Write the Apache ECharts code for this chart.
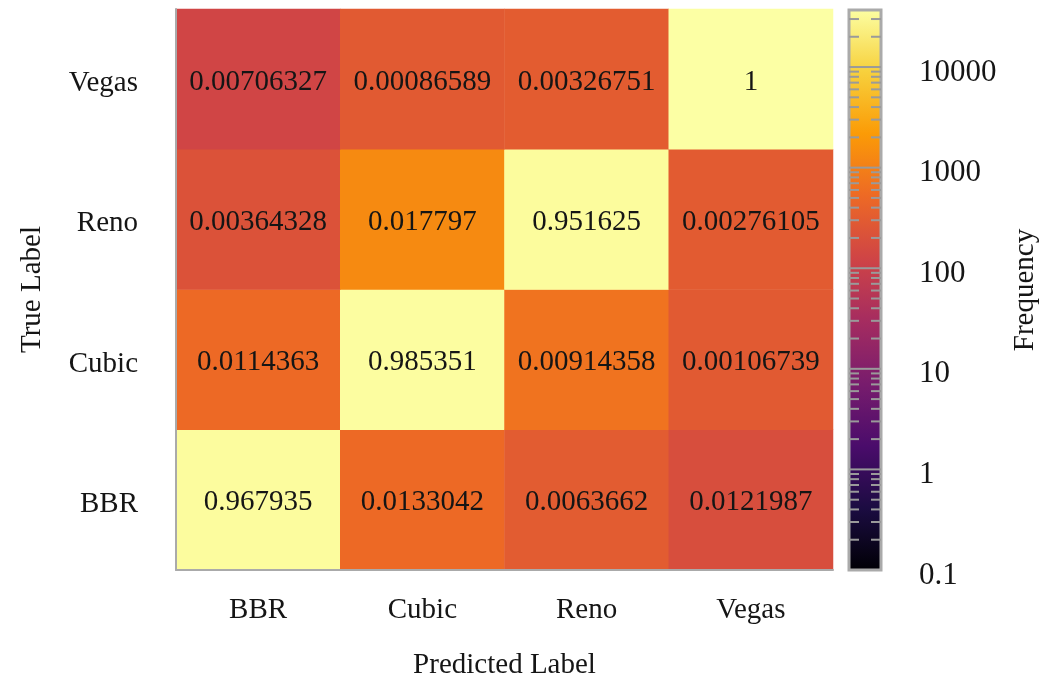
<!DOCTYPE html>
<html>
<head>
<meta charset="utf-8">
<script src="https://cdn.jsdelivr.net/npm/echarts@6/dist/echarts.min.js"></script>
<style>
  html, body { margin: 0; padding: 0; background: #ffffff; }
  #chart { width: 1041px; height: 675px; }
</style>
</head>
<body>
<div id="chart"></div>
<script>
// Categories (predicted along x, true along y, bottom to top)
const predictedLabels = ['BBR', 'Cubic', 'Reno', 'Vegas'];
const trueLabels = ['BBR', 'Cubic', 'Reno', 'Vegas'];

// Normalised rates printed in each cell, one array per true label (columns = predicted)
const rateBBR   = [0.967935, 0.0133042, 0.0063662, 0.0121987];
const rateCubic = [0.0114363, 0.985351, 0.00914358, 0.00106739];
const rateReno  = [0.00364328, 0.017797, 0.951625, 0.00276105];
const rateVegas = [0.00706327, 0.00086589, 0.00326751, 1];

// Raw frequencies that set each cell's colour (log scale)
const countBBR   = [34000, 520, 310, 185];
const countCubic = [515, 35000, 690, 290];
const countReno  = [215, 1300, 33500, 300];
const countVegas = [130, 290, 315, 36900];

// Colour bar range and labelled ticks
const colorbarTicks = [0.1, 1, 10, 100, 1000, 10000];
const colorbarMin = 0.1;
const colorbarMax = 36900;

const inferno = ['#000004', '#1b0c41', '#4a0c6b', '#781c6d', '#a52c60',
                 '#cf4446', '#ed6925', '#fb9b06', '#f7d13d', '#fcffa4'];

const FONT = '"Liberation Serif", "Times New Roman", serif';
const TEXT = '#151515';

const rates = [rateBBR, rateCubic, rateReno, rateVegas];
const counts = [countBBR, countCubic, countReno, countVegas];

const cells = [];
for (let yi = 0; yi < trueLabels.length; yi++) {
  for (let xi = 0; xi < predictedLabels.length; xi++) {
    const c = counts[yi][xi];
    cells.push([xi, yi, c, Math.log10(c), rates[yi][xi]]);
  }
}

const logMin = Math.log10(colorbarMin);
const logMax = Math.log10(colorbarMax);

const majorTicks = colorbarTicks.map(t => Math.log10(t));
const minorTicks = [];
for (let k = Math.floor(logMin); k <= Math.floor(logMax); k++) {
  for (let m = 2; m <= 9; m++) {
    const v = Math.log10(m) + k;
    if (v > logMin && v < logMax) minorTicks.push(v);
  }
}

const gradientStops = inferno.map((c, i) => ({ offset: i / (inferno.length - 1), color: c }));

const chart = echarts.init(document.getElementById('chart'), null, { renderer: 'canvas' });

chart.setOption({
  backgroundColor: '#ffffff',
  animation: false,
  grid: [
    { left: 176, top: 9, width: 657, height: 561, outerBoundsMode: 'none', containLabel: false },
    { left: 849, top: 10, width: 32, height: 560, outerBoundsMode: 'none', containLabel: false }
  ],
  xAxis: [
    {
      gridIndex: 0,
      type: 'category',
      data: predictedLabels,
      z: 5,
      axisLine: { lineStyle: { color: '#aaaaaa', width: 2 } },
      axisTick: { show: false },
      splitLine: { show: false },
      axisLabel: { fontFamily: FONT, fontSize: 29, color: TEXT, margin: 26 },
      name: 'Predicted Label',
      nameLocation: 'middle',
      nameGap: 81,
      nameTextStyle: { fontFamily: FONT, fontSize: 29, color: TEXT }
    },
    {
      gridIndex: 1,
      type: 'value',
      min: 0,
      max: 1,
      show: false
    }
  ],
  yAxis: [
    {
      gridIndex: 0,
      type: 'category',
      data: trueLabels,
      z: 5,
      axisLine: { lineStyle: { color: '#aaaaaa', width: 2 } },
      axisTick: { show: false },
      splitLine: { show: false },
      axisLabel: {
        margin: 38,
        formatter: v => '{c|' + v + '}',
        rich: { c: { fontFamily: FONT, fontSize: 29, color: TEXT, padding: [9, 0, 0, 0] } }
      },
      name: 'True Label',
      nameLocation: 'middle',
      nameRotate: 90,
      nameGap: 129,
      nameTextStyle: { fontFamily: FONT, fontSize: 29, color: TEXT }
    },
    {
      gridIndex: 1,
      type: 'value',
      position: 'right',
      min: logMin,
      max: logMax,
      interval: 1,
      axisLine: { show: false },
      axisTick: { show: false },
      splitLine: { show: false },
      axisLabel: {
        margin: 38,
        formatter: function (v) {
          const t = colorbarTicks.find(tv => Math.abs(Math.log10(tv) - v) < 1e-6);
          return t === undefined ? '' : '{c|' + String(t) + '}';
        },
        rich: { c: { fontFamily: FONT, fontSize: 31, color: TEXT, padding: [11, 0, 0, 0] } }
      },
      name: 'Frequency',
      nameLocation: 'middle',
      nameRotate: 90,
      nameGap: 130,
      nameTextStyle: { fontFamily: FONT, fontSize: 29, color: TEXT }
    }
  ],
  visualMap: {
    show: false,
    type: 'continuous',
    seriesIndex: 0,
    dimension: 3,
    min: logMin,
    max: logMax,
    inRange: { color: inferno }
  },
  series: [
    {
      type: 'heatmap',
      xAxisIndex: 0,
      yAxisIndex: 0,
      data: cells,
      label: {
        show: true,
        fontFamily: FONT,
        fontSize: 29,
        color: TEXT,
        offset: [0, 3],
        formatter: p => String(p.value[4])
      },
      itemStyle: { borderWidth: 0 },
      emphasis: { disabled: true }
    },
    {
      // colour bar body
      type: 'custom',
      xAxisIndex: 1,
      yAxisIndex: 1,
      silent: true,
      data: [[0, logMin, 1, logMax]],
      renderItem: function (params, api) {
        const p0 = api.coord([api.value(0), api.value(3)]);
        const p1 = api.coord([api.value(2), api.value(1)]);
        return {
          type: 'rect',
          shape: { x: p0[0], y: p0[1], width: p1[0] - p0[0], height: p1[1] - p0[1] },
          style: {
            fill: new echarts.graphic.LinearGradient(0, 1, 0, 0, gradientStops),
            stroke: '#aaaaaa',
            lineWidth: 3
          }
        };
      }
    },
    {
      // major ticks across the colour bar
      type: 'custom',
      xAxisIndex: 1,
      yAxisIndex: 1,
      silent: true,
      z: 4,
      data: majorTicks.filter(v => v > logMin + 1e-6).map(v => [v]),
      renderItem: function (params, api) {
        const a = api.coord([0, api.value(0)]);
        const b = api.coord([1, api.value(0)]);
        return {
          type: 'line',
          shape: { x1: a[0], y1: a[1], x2: b[0], y2: b[1] },
          style: { stroke: '#9a9a9a', lineWidth: 2 }
        };
      }
    },
    {
      // minor ticks on both sides of the colour bar
      type: 'custom',
      xAxisIndex: 1,
      yAxisIndex: 1,
      silent: true,
      z: 4,
      data: minorTicks.map(v => [v]),
      renderItem: function (params, api) {
        const a = api.coord([0, api.value(0)]);
        const b = api.coord([1, api.value(0)]);
        return {
          type: 'group',
          children: [
            { type: 'line', shape: { x1: a[0], y1: a[1], x2: a[0] + 10, y2: a[1] },
              style: { stroke: '#9a9a9a', lineWidth: 2 } },
            { type: 'line', shape: { x1: b[0] - 10, y1: b[1], x2: b[0], y2: b[1] },
              style: { stroke: '#9a9a9a', lineWidth: 2 } }
          ]
        };
      }
    }
  ]
});
</script>
</body>
</html>
